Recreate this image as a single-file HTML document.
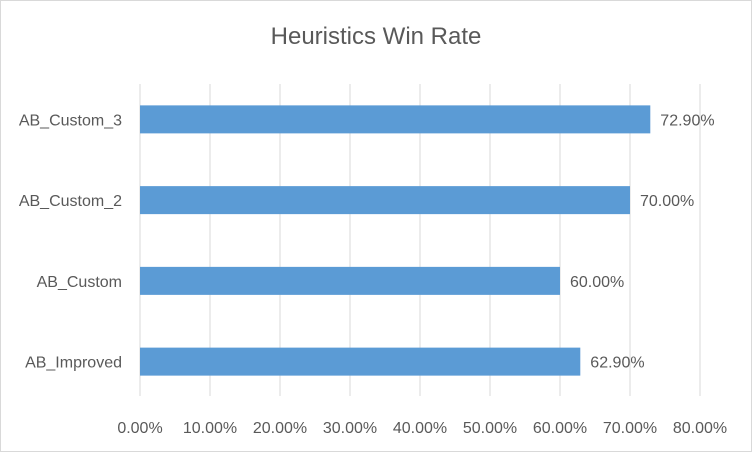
<!DOCTYPE html>
<html><head><meta charset="utf-8"><style>
body{margin:0;background:#fff;font-family:"Liberation Sans",sans-serif;}
svg text{font-family:"Liberation Sans",sans-serif;fill:#595959;}
</style></head><body>
<svg width="752" height="452" id="c">
<rect x="0.5" y="0.5" width="751" height="451" fill="#fff" stroke="#d9d9d9"/>
<text x="376" y="44" font-size="24" text-anchor="middle">Heuristics Win Rate</text>
<g id="grid"></g><g id="bars"></g>
</svg>
<script>
const categories=["AB_Custom_3","AB_Custom_2","AB_Custom","AB_Improved"];
const values=[72.9,70.0,60.0,62.9];
const tickValues=[0,10,20,30,40,50,60,70,80];
const x0=140,x1=700,yTop=79,yBot=402,gTop=84,gBot=396,maxV=80;
const xs=v=>x0+(v/maxV)*(x1-x0);
const band=(yBot-yTop)/categories.length;
const NS="http://www.w3.org/2000/svg";
const g=document.getElementById('grid'),b=document.getElementById('bars');
tickValues.forEach(t=>{
  const l=document.createElementNS(NS,'line');
  l.setAttribute('x1',xs(t));l.setAttribute('x2',xs(t));l.setAttribute('y1',gTop);l.setAttribute('y2',gBot);
  l.setAttribute('stroke','#d9d9d9');l.setAttribute('stroke-width','1');
  
  
  g.appendChild(l);
  const tx=document.createElementNS(NS,'text');
  tx.setAttribute('x',xs(t));tx.setAttribute('y',433);tx.setAttribute('font-size','16');tx.setAttribute('text-anchor','middle');
  tx.textContent=t.toFixed(2)+'%';
  
  
  g.appendChild(tx);
});
categories.forEach((c,i)=>{
  const cy=yTop+band*i+band/2;
  const r=document.createElementNS(NS,'rect');
  r.setAttribute('x',x0);r.setAttribute('y',cy-14);r.setAttribute('width',xs(values[i])-x0);r.setAttribute('height',28);
  r.setAttribute('fill','#5b9bd5');
  
  
  b.appendChild(r);
  const lb=document.createElementNS(NS,'text');
  lb.setAttribute('x',122);lb.setAttribute('y',cy+6);lb.setAttribute('font-size','16');lb.setAttribute('text-anchor','end');
  lb.textContent=c;
  
  
  b.appendChild(lb);
  const vl=document.createElementNS(NS,'text');
  vl.setAttribute('x',xs(values[i])+10);vl.setAttribute('y',cy+6);vl.setAttribute('font-size','16');
  vl.textContent=values[i].toFixed(2)+'%';
  
  
  b.appendChild(vl);
});
</script>
</body></html>
